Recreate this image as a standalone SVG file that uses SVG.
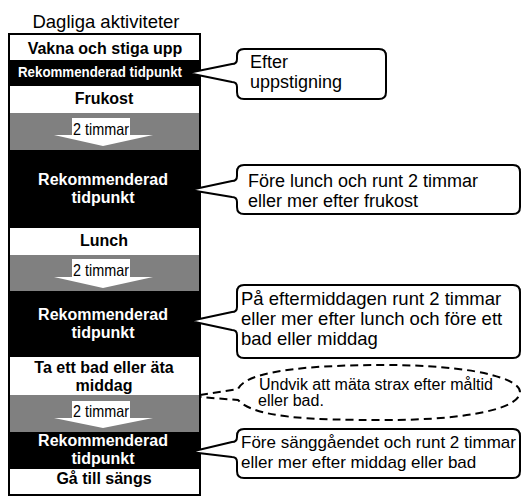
<svg xmlns="http://www.w3.org/2000/svg" width="522" height="496" viewBox="0 0 522 496">
<style>
text{font-family:"Liberation Sans",Arial,sans-serif}
.hd{font-size:16px;font-weight:bold;fill:#000;text-anchor:middle}
.rk{font-size:16px;font-weight:bold;fill:#fff;text-anchor:middle}
.tm{font-size:16.5px;fill:#000}
.bt{font-size:18px;fill:#000}
.wh{fill:#fff}
.bk{fill:#000}
.gr{fill:#808080}
.bub{fill:#fff;stroke:#000;stroke-width:2;stroke-linejoin:round}
.dash{fill:none;stroke:#000;stroke-width:2;stroke-dasharray:8,5}
</style>
<rect width="522" height="496" fill="#fff"/>
<text x="106" y="28" font-size="18.5" text-anchor="middle">Dagliga aktiviteter</text>
<g id="column">
<g id="n-vakna"><rect class="wh" x="9" y="34" width="191" height="26"/><text class="hd" x="105" y="54">Vakna och stiga upp</text></g>
<g id="n-rek1"><rect class="bk" x="9" y="60" width="191" height="26"/><text class="rk" x="100" y="77" style="font-size:14.5px" textLength="164" lengthAdjust="spacingAndGlyphs">Rekommenderad tidpunkt</text></g>
<g id="n-frukost"><rect class="wh" x="9" y="86" width="191" height="27"/><text class="hd" x="104" y="104">Frukost</text></g>
<g id="n-gap1"><rect class="gr" x="9" y="113" width="191" height="37"/><rect class="wh" x="72" y="118" width="58" height="18"/><polygon class="wh" points="54,135 153,135 103,146"/><text class="tm" x="73" y="135" textLength="56" lengthAdjust="spacingAndGlyphs">2 timmar</text></g>
<g id="n-rek2"><rect class="bk" x="9" y="150" width="191" height="78"/><text class="rk" x="103" y="185">Rekommenderad</text><text class="rk" x="103" y="203">tidpunkt</text></g>
<g id="n-lunch"><rect class="wh" x="9" y="228" width="191" height="27"/><text class="hd" x="104" y="246">Lunch</text></g>
<g id="n-gap2"><rect class="gr" x="9" y="255" width="191" height="36"/><rect class="wh" x="72" y="259" width="58" height="19"/><polygon class="wh" points="54,277 153,277 103,288"/><text class="tm" x="73" y="276" textLength="56" lengthAdjust="spacingAndGlyphs">2 timmar</text></g>
<g id="n-rek3"><rect class="bk" x="9" y="291" width="191" height="66"/><text class="rk" x="103" y="320">Rekommenderad</text><text class="rk" x="103" y="338">tidpunkt</text></g>
<g id="n-bad"><rect class="wh" x="9" y="357" width="191" height="38"/><text class="hd" x="104" y="373">Ta ett bad eller äta</text><text class="hd" x="104" y="391">middag</text></g>
<g id="n-gap3"><rect class="gr" x="9" y="395" width="191" height="37"/><rect class="wh" x="72" y="401" width="58" height="18"/><polygon class="wh" points="54,418 153,418 103,428"/><text class="tm" x="73" y="417" textLength="56" lengthAdjust="spacingAndGlyphs">2 timmar</text></g>
<g id="n-rek4"><rect class="bk" x="9" y="432" width="191" height="37"/><text class="rk" x="103" y="446">Rekommenderad</text><text class="rk" x="103" y="464">tidpunkt</text></g>
<g id="n-sang"><rect class="wh" x="9" y="469" width="191" height="27"/><text class="hd" x="104" y="484">Gå till sängs</text></g>
<rect x="9" y="34" width="191" height="461" fill="none" stroke="#000" stroke-width="2"/>
</g>
<g id="connectors">
<path class="bub" d="M244,49 H379 Q386,49 386,56 V92 Q386,99 379,99 H244 Q237,99 237,92 V87 Q237,82 232,82 L188,73 L232,64 Q237,64 237,59 V56 Q237,49 244,49 Z"/>
<path class="bub" d="M244,165 H513 Q520,165 520,172 V207 Q520,214 513,214 H244 Q237,214 237,207 V202 Q237,197 232,197 L190,190 L232,181 Q237,181 237,176 V172 Q237,165 244,165 Z"/>
<path class="bub" d="M244,285 H513 Q520,285 520,292 V351 Q520,358 513,358 H244 Q237,358 237,351 V335 Q237,330 232,330 L190,321 L232,312 Q237,312 237,307 V292 Q237,285 244,285 Z"/>
<path class="dash" d="M200,395 L238,389 C246,372 300,365 386,365 C470,365 520,378 520,392 C520,408 470,420 386,420 C310,420 255,418 238,400 L200,397"/>
<path class="bub" d="M244,429 H513 Q520,429 520,436 V471 Q520,478 513,478 H244 Q237,478 237,471 V462 Q237,457 232,457 L190,452 L232,442 Q237,442 237,437 V436 Q237,429 244,429 Z"/>
</g>
<g id="callout-text">
<text class="bt" x="250" y="68">Efter</text>
<text class="bt" x="250" y="88">uppstigning</text>
<text class="bt" x="248" y="187">Före lunch och runt 2 timmar</text>
<text class="bt" x="248" y="207">eller mer efter frukost</text>
<text class="bt" x="241" y="305" style="font-size:18.5px">På eftermiddagen runt 2 timmar</text>
<text class="bt" x="241" y="325" style="font-size:18.5px">eller mer efter lunch och före ett</text>
<text class="bt" x="241" y="345" style="font-size:18.5px">bad eller middag</text>
<text x="259" y="390" font-size="16">Undvik att mäta strax efter måltid</text>
<text x="258" y="406" font-size="16">eller bad.</text>
<text class="bt" x="241" y="448" style="font-size:17px">Före sänggåendet och runt 2 timmar</text>
<text class="bt" x="241" y="468" style="font-size:17px">eller mer efter middag eller bad</text>
</g>
</svg>
